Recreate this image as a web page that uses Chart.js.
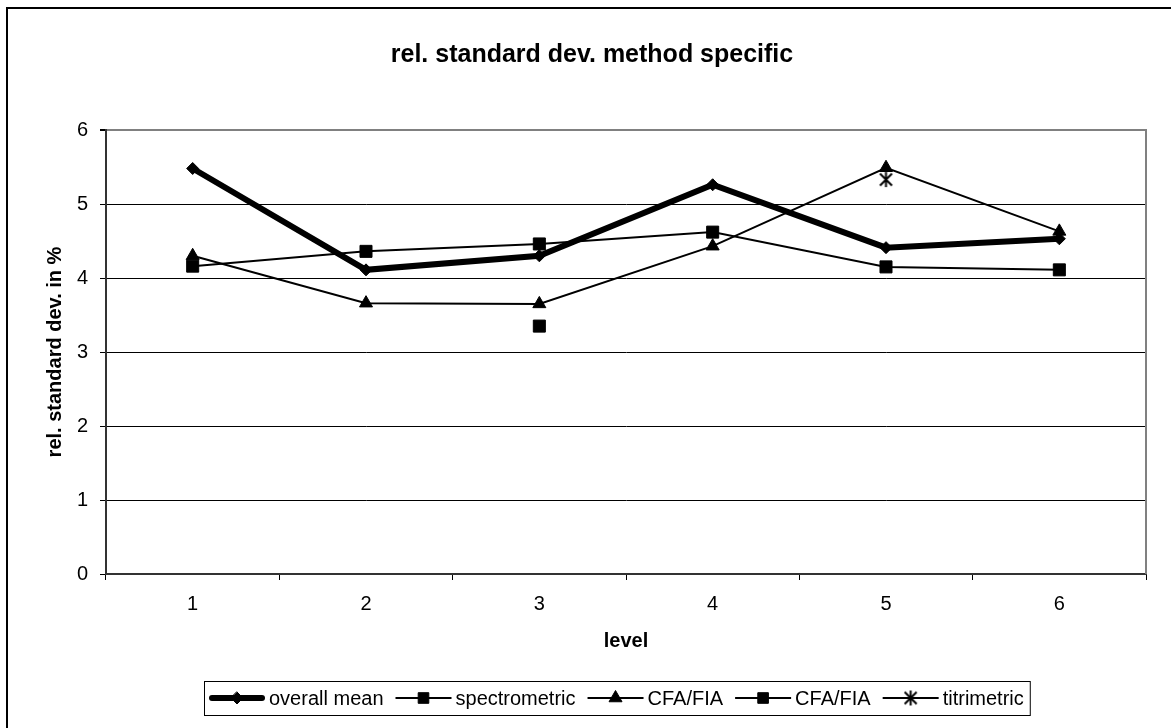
<!doctype html>
<html>
<head>
<meta charset="UTF-8">
<title>rel. standard dev. method specific</title>
<script src="https://cdn.jsdelivr.net/npm/chart.js"></script>
<style>
  html, body { margin: 0; padding: 0; background: #fff; }
</style>
</head>
<body>
<canvas id="chart" width="1171" height="728"></canvas>
<script>
const levels = ["1", "2", "3", "4", "5", "6"];
const overallMean = [5.48, 4.11, 4.30, 5.26, 4.41, 4.53];
const spectrometric = [4.16, 4.36, 4.46, 4.62, 4.15, 4.11];
const cfaFiaTriangle = [4.30, 3.66, 3.65, 4.43, 5.49, 4.63];
const cfaFiaSquare = [null, null, 3.35, null, null, null];
const titrimetric = [null, null, null, null, 5.33, null];
const yMin = 0;
const yMax = 6;

const FONT = "'Liberation Sans', Arial, sans-serif";

// Excel style asterisk marker (X with a vertical bar)
const star = document.createElement("canvas");
star.width = 17;
star.height = 17;
const sc = star.getContext("2d");
sc.strokeStyle = "#000";
sc.lineWidth = 2;
sc.beginPath();
sc.moveTo(2.5, 2.5); sc.lineTo(14.5, 14.5);
sc.moveTo(2.5, 14.5); sc.lineTo(14.5, 2.5);
sc.moveTo(8.5, 1); sc.lineTo(8.5, 16);
sc.stroke();

const series = [
  { label: "overall mean", data: overallMean, style: "rectRot", radius: 6, width: 6 },
  { label: "spectrometric", data: spectrometric, style: "rect", radius: 8.5, width: 2 },
  { label: "CFA/FIA", data: cfaFiaTriangle, style: "triangle", radius: 7.5, width: 2 },
  { label: "CFA/FIA", data: cfaFiaSquare, style: "rect", radius: 8.5, width: 2 },
  { label: "titrimetric", data: titrimetric, style: star, radius: 8, width: 2 },
];

const drawMarker = (ctx, style, r, x, y) => {
  ctx.save();
  ctx.fillStyle = "#000";
  ctx.strokeStyle = "#000";
  ctx.lineWidth = 1;
  ctx.beginPath();
  if (style === "rect") {
    const s = Math.SQRT1_2 * r;
    ctx.rect(x - s, y - s, 2 * s, 2 * s);
    ctx.fill(); ctx.stroke();
  } else if (style === "rectRot") {
    ctx.moveTo(x, y - r); ctx.lineTo(x + r, y); ctx.lineTo(x, y + r); ctx.lineTo(x - r, y);
    ctx.closePath(); ctx.fill(); ctx.stroke();
  } else if (style === "triangle") {
    ctx.moveTo(x, y - r);
    ctx.lineTo(x + r * Math.sin(Math.PI * 2 / 3), y + r / 2);
    ctx.lineTo(x - r * Math.sin(Math.PI * 2 / 3), y + r / 2);
    ctx.closePath(); ctx.fill(); ctx.stroke();
  } else {
    ctx.drawImage(style, x - style.width / 2, y - style.height / 2);
  }
  ctx.restore();
};

const framePlugin = {
  id: "frame",
  beforeDraw(chart) {
    const ctx = chart.ctx;
    ctx.save();
    ctx.fillStyle = "#fff";
    ctx.fillRect(0, 0, chart.width, chart.height);
    ctx.strokeStyle = "#000";
    ctx.lineWidth = 2;
    ctx.strokeRect(7, 8, 1300, 900);
    ctx.restore();
  },
  beforeDatasetsDraw(chart) {
    const { ctx, chartArea } = chart;
    ctx.save();
    ctx.strokeStyle = "#808080";
    ctx.lineWidth = 2;
    ctx.beginPath();
    ctx.moveTo(chartArea.right, chartArea.top - 1);
    ctx.lineTo(chartArea.right, chartArea.bottom);
    ctx.stroke();
    ctx.restore();
  },
};

const legendPlugin = {
  id: "excelLegend",
  afterDraw(chart) {
    const ctx = chart.ctx;
    const top = 681, h = 34, cy = top + h / 2;
    const lineLen = 56;
    ctx.save();
    ctx.font = `20px ${FONT}`;
    ctx.textBaseline = "middle";
    ctx.fillStyle = "#000";
    let x = 209;
    const items = [];
    series.forEach((s) => {
      items.push({ s, x0: x, tx: x + lineLen + 4 });
      x = x + lineLen + 4 + ctx.measureText(s.label).width + 12;
    });
    const right = x - 12 + 6;
    ctx.strokeStyle = "#000";
    ctx.lineWidth = 1;
    ctx.strokeRect(204.5, top + 0.5, right - 204, h);
    items.forEach(({ s, x0, tx }) => {
      ctx.lineWidth = s.width;
      ctx.lineCap = s.width > 3 ? "round" : "butt";
      ctx.beginPath();
      ctx.moveTo(x0 + (s.width > 3 ? 3 : 0), cy);
      ctx.lineTo(x0 + lineLen - (s.width > 3 ? 3 : 0), cy);
      ctx.stroke();
      drawMarker(ctx, s.style, s.style === "rectRot" ? 6 : 7.5, x0 + lineLen / 2, cy);
      ctx.fillText(s.label, tx, cy + 1);
    });
    ctx.restore();
  },
};

new Chart("chart", {
  type: "line",
  data: {
    labels: levels,
    datasets: series.map((s) => ({
      label: s.label,
      data: s.data,
      borderColor: "#000",
      backgroundColor: "#000",
      borderWidth: s.width,
      pointStyle: s.style,
      pointRadius: s.radius,
      pointHoverRadius: s.radius,
      pointBorderWidth: 1,
      pointBorderColor: "#000",
      pointBackgroundColor: "#000",
      tension: 0,
      spanGaps: false,
      fill: false,
      clip: false,
    })),
  },
  options: {
    responsive: false,
    animation: false,
    devicePixelRatio: 1,
    layout: { padding: { left: 38, right: 25, top: 0, bottom: 60 } },
    plugins: {
      legend: { display: false },
      tooltip: { enabled: false },
      title: {
        display: true,
        text: "rel. standard dev. method specific",
        color: "#000",
        font: { family: FONT, size: 25, weight: "bold" },
        padding: { top: 40, bottom: 60 },
      },
    },
    scales: {
      x: {
        offset: true,
        afterFit: (s) => { s.height = 94; },
        grid: { offset: true, drawOnChartArea: false, tickLength: 6, tickColor: "#000", tickWidth: 1 },
        border: { color: "#333", width: 2 },
        ticks: { color: "#000", font: { family: FONT, size: 20 }, padding: 12, maxRotation: 0 },
        title: {
          display: true,
          text: "level",
          color: "#000",
          font: { family: FONT, size: 20, weight: "bold" },
          padding: { top: 0, bottom: 15 },
        },
      },
      y: {
        min: yMin,
        max: yMax,
        afterFit: (s) => { s.width = 68; },
        grid: {
          color: (c) => (c.tick && c.tick.value === yMax ? "#808080" : "#000"),
          lineWidth: (c) => (c.tick && c.tick.value === yMax ? 2 : 1),
          tickLength: 6,
          tickColor: "#000",
        },
        border: { color: "#333", width: 2 },
        ticks: { stepSize: 1, color: "#000", font: { family: FONT, size: 20 }, padding: 12 },
        title: {
          display: true,
          text: "rel. standard dev. in %",
          color: "#000",
          font: { family: FONT, size: 20, weight: "bold" },
          padding: { top: 5, bottom: 0 },
        },
      },
    },
  },
  plugins: [framePlugin, legendPlugin],
});
</script>
</body>
</html>
